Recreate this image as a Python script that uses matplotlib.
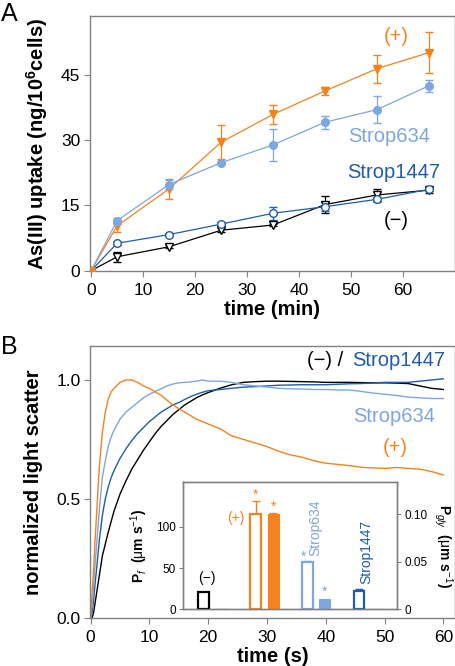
import matplotlib
matplotlib.use("Agg")
import matplotlib.pyplot as plt

plt.rcParams['font.family'] = ['Liberation Sans', 'DejaVu Sans']
plt.rcParams['mathtext.fontset'] = 'custom'
plt.rcParams['mathtext.rm'] = 'Liberation Sans'
plt.rcParams['mathtext.it'] = 'Liberation Sans:italic'
plt.rcParams['mathtext.bf'] = 'Liberation Sans:bold'

ORANGE = '#F5821F'
LBLUE = '#7EA6DF'
DBLUE = '#1F5DA6'
SPINE = '#808080'

# ---- panel A: uptake vs time (min)
t_min = [0, 5, 15, 25, 35, 45, 55, 65]
plus_val = [0, 10.3, 18.8, 29.5, 35.9, 41.3, 46.4, 50.1]
plus_err = [0, 1.3, 2.3, 3.9, 2.1, 1.0, 3.2, 4.8]
s634_val = [0, 11.5, 19.8, 24.8, 28.9, 34.1, 37.0, 42.5]
s634_err = [0, 0.7, 1.0, 0.3, 3.6, 1.5, 3.1, 1.4]
s1447_val = [0, 6.3, 8.3, 10.7, 13.2, 14.7, 16.4, 18.7]
s1447_err = [0, 0.3, 0.3, 0.4, 1.5, 1.0, 0.6, 0.4]
minus_val = [0, 3.2, 5.5, 9.3, 10.5, 15.2, 17.4, 18.5]
minus_err = [0, 1.2, 0.3, 0.5, 0.3, 1.9, 1.3, 0.6]

# ---- panel B: light scatter vs time (s)
t_s = [0, 0.25, 0.5, 0.75, 1, 1.5, 2, 2.5, 3, 3.5, 4, 5, 6, 7, 8, 9, 10, 11, 12, 13,
       14, 15, 16, 17, 18, 19, 20, 22, 24, 26, 28, 30, 32, 34, 36, 38, 40, 42, 44,
       46, 48, 50, 52, 54, 56, 58, 60]
scat_plus = [0, 0.1, 0.2, 0.32, 0.43, 0.64, 0.78, 0.865, 0.92, 0.95, 0.965, 0.99, 1.0,
             1.0, 0.99, 0.975, 0.965, 0.95, 0.935, 0.915, 0.895, 0.88, 0.865, 0.85,
             0.835, 0.825, 0.815, 0.795, 0.765, 0.75, 0.735, 0.72, 0.7, 0.685, 0.675,
             0.66, 0.65, 0.645, 0.64, 0.633, 0.63, 0.628, 0.632, 0.628, 0.625, 0.615, 0.6]
scat_634 = [0, 0.05, 0.13, 0.22, 0.3, 0.46, 0.59, 0.66, 0.72, 0.76, 0.79, 0.835, 0.865,
            0.885, 0.905, 0.925, 0.94, 0.952, 0.963, 0.975, 0.983, 0.988, 0.99, 0.992,
            0.995, 1.0, 0.995, 0.995, 0.99, 0.98, 0.975, 0.97, 0.965, 0.963, 0.962,
            0.96, 0.96, 0.958, 0.958, 0.952, 0.945, 0.94, 0.935, 0.928, 0.925, 0.922, 0.922]
scat_1447 = [0, 0.02, 0.07, 0.14, 0.2, 0.33, 0.43, 0.5, 0.55, 0.59, 0.62, 0.67, 0.71,
             0.745, 0.775, 0.8, 0.825, 0.845, 0.865, 0.88, 0.895, 0.905, 0.918, 0.93,
             0.94, 0.948, 0.955, 0.96, 0.965, 0.97, 0.972, 0.975, 0.978, 0.979, 0.98,
             0.98, 0.98, 0.982, 0.984, 0.985, 0.987, 0.99, 0.99, 0.99, 0.995, 1.0, 1.005]
scat_minus = [0, 0.0, 0.02, 0.06, 0.1, 0.18, 0.26, 0.31, 0.36, 0.405, 0.45, 0.52, 0.575,
              0.625, 0.665, 0.705, 0.74, 0.775, 0.805, 0.83, 0.855, 0.875, 0.895, 0.91,
              0.925, 0.937, 0.947, 0.965, 0.98, 0.99, 0.993, 0.995, 0.995, 0.994, 0.993,
              0.992, 0.99, 0.99, 0.99, 0.989, 0.988, 0.988, 0.987, 0.985, 0.975, 0.965, 0.96]

# ---- inset bars
groups = ['(-)', '(+)', 'Strop634', 'Strop1447']
bar_colors = ['black', ORANGE, LBLUE, DBLUE]
pf_val = [20.5, 115.3, 56.9, 22.6]
pf_err = [0.5, 15.7, 1.2, 2.4]
pgly_val = [0.0006, 0.1, 0.0105, 0.0006]
pgly_err = [0, 0.0008, 0, 0]

fig = plt.figure(figsize=(4.56, 6.66), dpi=100)


def style_axes(ax):
    for s in ax.spines.values():
        s.set_color(SPINE)
        s.set_linewidth(1.0)
    ax.tick_params(direction='out', length=4.5, width=0.8, color=SPINE, labelsize=12.5, pad=2)
    ax.tick_params(axis='x', pad=4)


# panel A
axA = fig.add_axes([0.1963, 0.5935, 0.8016, 0.3825])
style_axes(axA)
axA.errorbar(t_min, minus_val, yerr=minus_err, color='black', lw=0.9, marker='v', ms=6,
             mfc='white', mec='black', capsize=3, elinewidth=0.9, zorder=3)
axA.errorbar(t_min, s1447_val, yerr=s1447_err, color=DBLUE, lw=0.9, marker='o', ms=5.5,
             mfc='white', mec=DBLUE, capsize=3, elinewidth=0.9, zorder=3)
axA.errorbar(t_min, plus_val, yerr=plus_err, color=ORANGE, lw=0.9, marker='v', ms=6,
             mfc=ORANGE, mec=ORANGE, capsize=3, elinewidth=0.9, zorder=4)
axA.errorbar(t_min, s634_val, yerr=s634_err, color=LBLUE, lw=0.9, marker='o', ms=5.5,
             mfc=LBLUE, mec=LBLUE, capsize=3, elinewidth=0.9, zorder=4)
axA.plot([0], [0], 'o', color=ORANGE, ms=5, zorder=5)
axA.set_xlim(-0.3, 70)
axA.set_ylim(0, 58.5)
axA.set_xticks([0, 10, 20, 30, 40, 50, 60])
axA.set_yticks([0, 15, 30, 45])
axA.set_xlabel('time (min)', fontsize=14.5, fontweight='bold', labelpad=2)
axA.set_ylabel(r'As(III) uptake (ng/10$^{\mathbf{6}}$cells)', fontsize=14.5,
               fontweight='bold', labelpad=8)
axA.text(58.6, 53.7, '(+)', color=ORANGE, fontsize=14.5, ha='center', va='center')
axA.text(57.3, 30.8, 'Strop634', color=LBLUE, fontsize=14.5, ha='center', va='center')
axA.text(58.2, 22.6, 'Strop1447', color=DBLUE, fontsize=14.5, ha='center', va='center')
axA.text(58.6, 11.6, '(\u2212)', color='black', fontsize=14.5, ha='center', va='center')
fig.text(0.003, 0.997, 'A', fontsize=18, va='top', ha='left')

# panel B
axB = fig.add_axes([0.1974, 0.0725, 0.8006, 0.408])
style_axes(axB)
axB.plot(t_s, scat_minus, color='black', lw=1.0)
axB.plot(t_s, scat_1447, color=DBLUE, lw=1.0)
axB.plot(t_s, scat_634, color=LBLUE, lw=1.0)
axB.plot(t_s, scat_plus, color=ORANGE, lw=1.0)
axB.set_xlim(-0.1, 62)
axB.set_ylim(0, 1.143)
axB.set_xticks([0, 10, 20, 30, 40, 50, 60])
axB.set_yticks([0, 0.5, 1.0])
axB.set_yticklabels(['0.0', '0.5', '1.0'])
axB.set_xlabel('time (s)', fontsize=14.5, fontweight='bold', labelpad=2)
axB.set_ylabel('normalized light scatter', fontsize=14.5, fontweight='bold', labelpad=10)
axB.text(0.71, 0.945, '(\u2212) / ', color='black', fontsize=14.5, ha='right', va='center',
         transform=axB.transAxes)
axB.text(0.973, 0.945, 'Strop1447', color=DBLUE, fontsize=14.5, ha='right', va='center',
         transform=axB.transAxes)
axB.text(51.6, 0.846, 'Strop634', color=LBLUE, fontsize=14.5, ha='center', va='center')
axB.text(51.9, 0.714, '(+)', color=ORANGE, fontsize=14.5, ha='center', va='center')
fig.text(0.003, 0.497, 'B', fontsize=18, va='top', ha='left')

# inset
axI = fig.add_axes([0.4007, 0.0851, 0.4706, 0.1916])
axI2 = axI.twinx()
for ax in (axI, axI2):
    for s in ax.spines.values():
        s.set_color(SPINE)
        s.set_linewidth(1.0)
    ax.tick_params(direction='out', length=3, width=0.8, color=SPINE, labelsize=8.5, pad=2)
axI.set_xticks([])
bw = 0.21
pos_open = [0, 1, 2, 3]
pos_fill = [p + 0.34 for p in pos_open]
axI.bar(pos_open, pf_val, width=bw, facecolor='white', edgecolor=bar_colors, linewidth=1.6,
        zorder=3)
axI2.bar(pos_fill, pgly_val, width=bw, color=bar_colors, edgecolor=bar_colors, linewidth=0.8)
for i in range(4):
    axI.errorbar(pos_open[i], pf_val[i], yerr=[[0], [pf_err[i]]], fmt='none',
                 ecolor=bar_colors[i], capsize=3, elinewidth=1.0, zorder=2)
    if pgly_err[i] > 0:
        axI2.errorbar(pos_fill[i], pgly_val[i], yerr=[[0], [pgly_err[i]]], fmt='none',
                      ecolor=bar_colors[i], capsize=3, elinewidth=1.0)
axI.set_xlim(-0.41, 3.74)
axI.set_ylim(0, 154.4)
axI2.set_ylim(0, 0.1339)
axI.set_yticks([0, 50, 100])
axI2.set_yticks([0, 0.05, 0.10])
axI2.set_yticklabels(['0', '0.05', '0.10'])
axI.set_ylabel(r'$\mathbf{P}_{\mathit{f}}$  ($\mathrm{\mu}$m s$^{-1}$)', fontsize=10,
               fontweight='bold', labelpad=4)
axI2.set_ylabel(r'$\mathbf{P}_{\mathit{gly}}$  ($\mathrm{\mu}$m s$^{-1}$)', fontsize=10,
                fontweight='bold', rotation=270, labelpad=20)
axI.text(0.05, 38, '(\u2212)', color='black', fontsize=10, ha='center', va='center')
axI.text(0.62, 110, '(+)', color=ORANGE, fontsize=10, ha='center', va='center')
axI.text(1.0, 138, '*', color=ORANGE, fontsize=10, ha='center', va='center')
axI.text(1.34, 124, '*', color=ORANGE, fontsize=10, ha='center', va='center')
axI.text(1.92, 64, '*', color=LBLUE, fontsize=10, ha='center', va='center')
axI.text(2.34, 21, '*', color=LBLUE, fontsize=10, ha='center', va='center')
axI.text(2.15, 99, 'Strop634', color=LBLUE, fontsize=10, rotation=90, ha='center',
         va='center')
axI.text(3.14, 70, 'Strop1447', color=DBLUE, fontsize=10, rotation=90, ha='center',
         va='center')

fig.savefig('out.png', dpi=100)
